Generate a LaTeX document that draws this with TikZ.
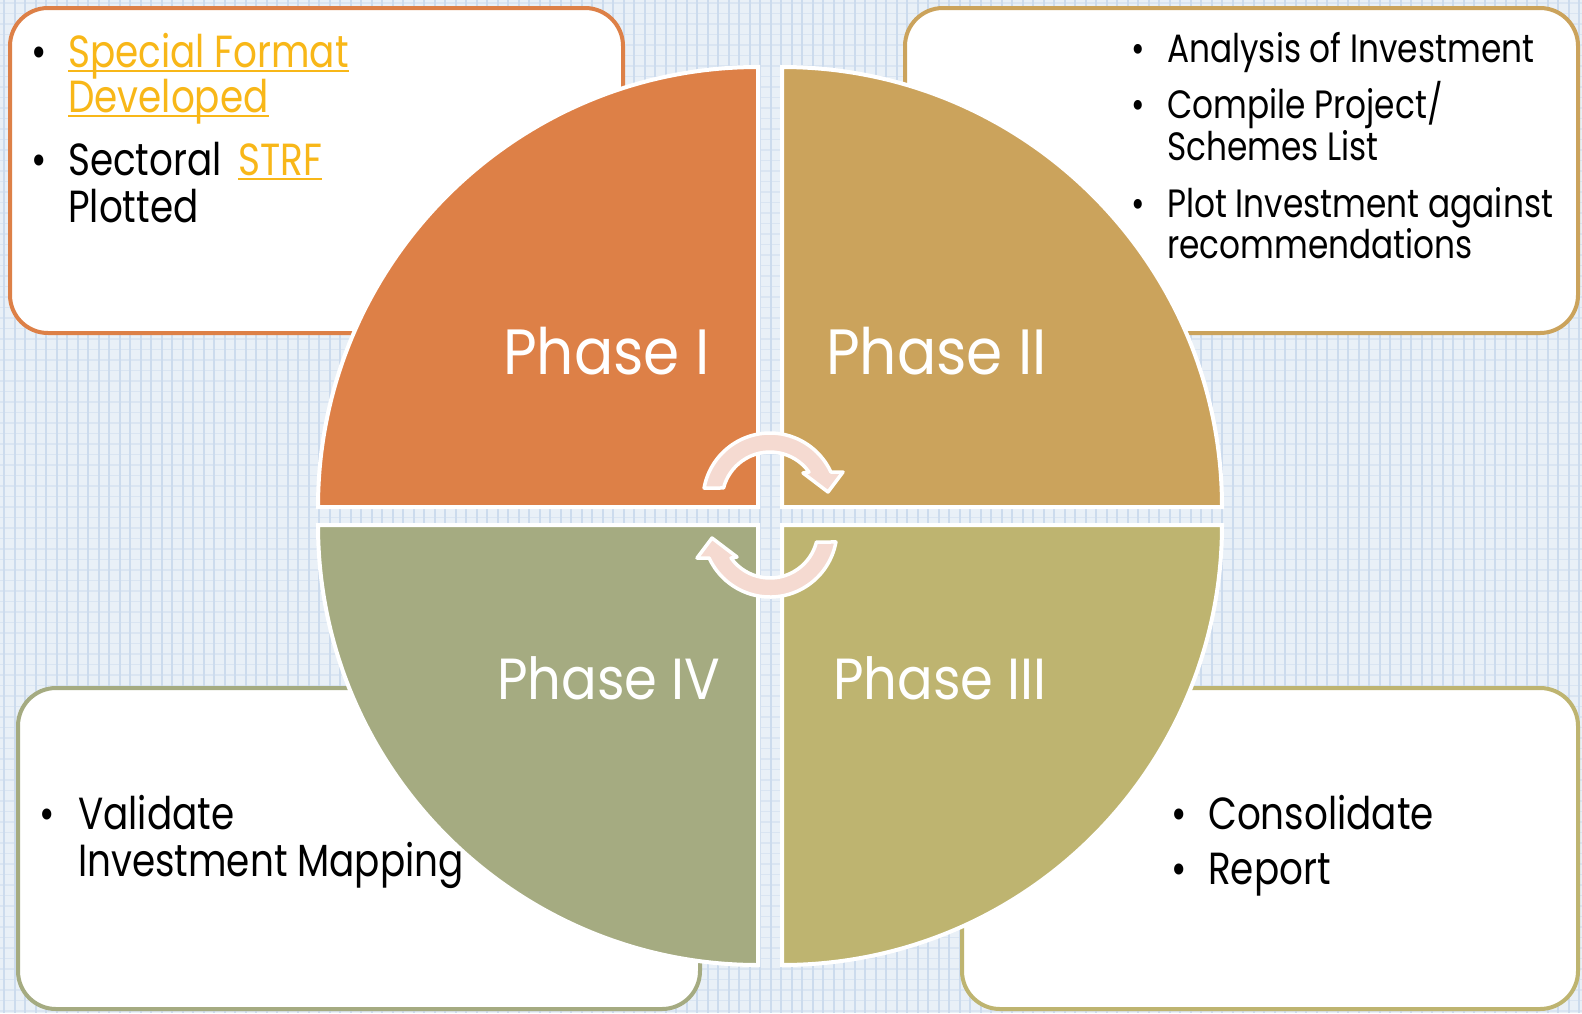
\documentclass[tikz,border=0pt]{standalone}
\usepackage{fontspec}
\setmainfont{Poppins}[FakeStretch=0.83]
\newfontfamily\phasefont{Poppins}[FakeStretch=0.91]
\definecolor{bgc}{RGB}{233,240,247}
\definecolor{vln}{RGB}{204,219,237}
\definecolor{hln}{RGB}{218,229,242}
\definecolor{qone}{RGB}{221,128,71}
\definecolor{qtwo}{RGB}{203,163,92}
\definecolor{qthree}{RGB}{190,180,112}
\definecolor{qfour}{RGB}{165,171,129}
\definecolor{linkc}{RGB}{248,183,24}
\definecolor{arrowc}{RGB}{245,218,209}
\tikzset{
  infobox/.style={rounded corners=38pt, line width=4pt, fill=white},
  quad/.style={draw=white, line width=4pt},
  cyc/.style={fill=arrowc, draw=white, line width=3.5pt, line join=round},
  body/.style={anchor=base west, inner sep=0pt, text=black},
  bul/.style={anchor=base west, inner sep=0pt, text=black},
  phase/.style={anchor=base west, inner sep=0pt, text=white, font=\phasefont\fontsize{64}{70}\selectfont},
  phasesm/.style={phase, font=\phasefont\fontsize{58}{64}\selectfont},
  uline/.style={draw=linkc, line width=2.5pt},
}
\begin{document}
\begin{tikzpicture}[x=1pt,y=-1pt]
\useasboundingbox (0,0) rectangle (1582,1013);
% background
\fill[bgc] (0,0) rectangle (1582,1013);
\foreach \y in {3,13.5,...,1013} \draw[hln, line width=1.5pt] (0,\y) -- (1582,\y);
\foreach \x in {4,14.5,...,1582} \draw[vln, line width=2pt] (\x,0) -- (\x,1013);
% boxes
\path[infobox, draw=qone] (10,8) rectangle (623,333);
\path[infobox, draw=qtwo] (905,8) rectangle (1578,333);
\path[infobox, draw=qfour] (18,688) rectangle (700,1009);
\path[infobox, draw=qthree] (962,688) rectangle (1578,1009);
% quadrants
\path[quad, fill=qone] (758,507) -- (318,507) arc[start angle=180, end angle=270, radius=440] -- cycle;
\path[quad, fill=qtwo] (782,507) -- (782,67) arc[start angle=270, end angle=360, radius=440] -- cycle;
\path[quad, fill=qthree] (782,525) -- (1222,525) arc[start angle=0, end angle=90, radius=440] -- cycle;
\path[quad, fill=qfour] (758,525) -- (758,965) arc[start angle=90, end angle=180, radius=440] -- cycle;
% cycle arrows
\path[cyc] (770,500) ++(190.3:67) arc[start angle=190.3, end angle=335.3, radius=67]
   -- (843,472) -- (828,492) -- (803,473) -- ([shift={(324.3:48)}]770,500)
   arc[start angle=324.3, end angle=194.5, radius=48] -- cycle;
\begin{scope}[rotate around={180:(770,515)}]
\path[cyc] (770,500) ++(190.3:67) arc[start angle=190.3, end angle=335.3, radius=67]
   -- (843,472) -- (828,492) -- (803,473) -- ([shift={(324.3:48)}]770,500)
   arc[start angle=324.3, end angle=194.5, radius=48] -- cycle;
\end{scope}
% phase labels
\node[phase] (p1) at (503,374) {Phase I};
\node[phase] (p2) at (826,374) {Phase II};
\node[phasesm] (p3) at (833,699) {Phase III};
\node[phasesm] (p4) at (497,699) {Phase IV};
% box I text
\begin{scope}[every node/.append style={font=\fontsize{45}{54}\selectfont}]
\node[bul] (u1) at (31,67) {•};
\node[body, text=linkc] (t1a) at (68,67) {Special Format};
\node[body, text=linkc] (t1b) at (68,112) {Developed};
\node[bul] (u2) at (31,175) {•};
\node[body] (t2a) at (68,175) {Sectoral};
\node[body, text=linkc] (t2b) at (238,175) {STRF};
\node[body] (t2c) at (68,222) {Plotted};
\end{scope}
\draw[uline] ([yshift=-4pt]t1a.base west) -- ([yshift=-4pt]t1a.base east);
\draw[uline] ([yshift=-4pt]t1b.base west) -- ([yshift=-4pt]t1b.base east);
\draw[uline] ([yshift=-4pt]t2b.base west) -- ([yshift=-4pt]t2b.base east);
% box II text
\begin{scope}[every node/.append style={font=\fontsize{39.5}{48}\selectfont}]
\node[bul] (v1) at (1131,62) {•};
\node[body] (s1) at (1167,62) {Analysis of Investment};
\node[bul] (v2) at (1131,118) {•};
\node[body] (s2a) at (1167,118) {Compile Project/};
\node[body] (s2b) at (1167,160) {Schemes List};
\node[bul] (v3) at (1131,217) {•};
\node[body] (s3a) at (1167,217) {Plot Investment against};
\node[body] (s3b) at (1167,258) {recommendations};
\end{scope}
% box IV text
\begin{scope}[every node/.append style={font=\fontsize{45}{54}\selectfont}]
\node[bul] (w1) at (39,829) {•};
\node[body] (r1a) at (78,829) {Validate};
\node[body] (r1b) at (78,876) {Investment Mapping};
% box III text
\node[bul] (x1) at (1171,829) {•};
\node[body] (q1) at (1208,829) {Consolidate};
\node[bul] (x2) at (1171,884) {•};
\node[body] (q2) at (1208,884) {Report};
\end{scope}
\end{tikzpicture}
\end{document}
